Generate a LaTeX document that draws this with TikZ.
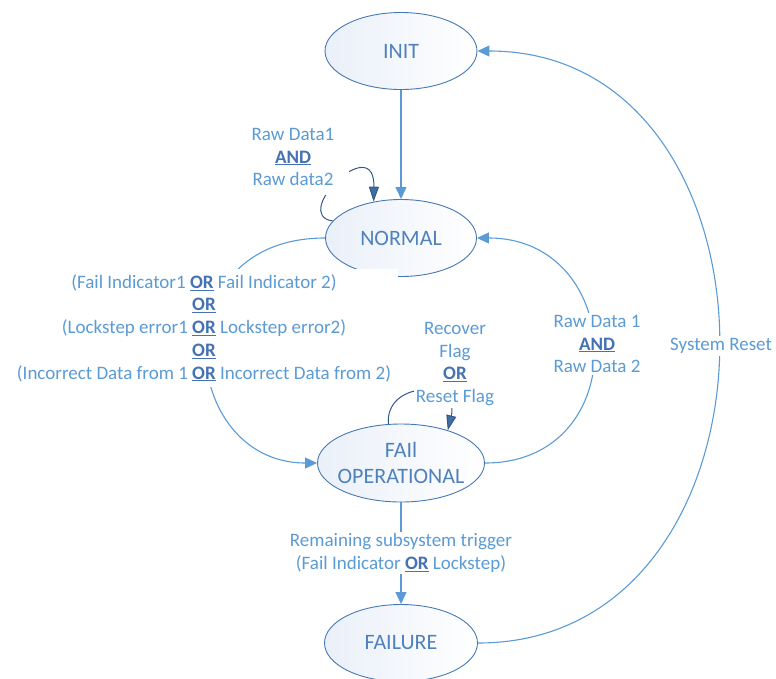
\documentclass[tikz,border=0pt]{standalone}
\usepackage{fontspec}
\setmainfont{Carlito}
\usetikzlibrary{arrows.meta,shapes.geometric,backgrounds}

\definecolor{linkblue}{RGB}{91,155,213}
\definecolor{stateedge}{RGB}{70,120,180}
\definecolor{statetext}{RGB}{79,129,189}
\definecolor{statefill}{RGB}{234,240,249}
\definecolor{loopblue}{RGB}{50,88,140}
\definecolor{looptip}{RGB}{65,110,160}
\definecolor{keyword}{RGB}{68,114,180}

% bold, underlined logical operator
\newcommand{\kw}[1]{{\color{keyword}\underline{\textbf{#1}}}}

\tikzset{
  state/.style={ellipse, draw=stateedge, line width=0.9pt,
    left color=statefill, right color=white, inner sep=0pt},
  statename/.style={text=statetext, font=\fontsize{22}{26}\selectfont,
    align=center, inner sep=0pt},
  link/.style={draw=linkblue, line width=1.1pt,
    -{Triangle[length=12pt,width=11pt]}},
  selfloop/.style={draw=loopblue, line width=1pt,
    -{Triangle[length=15pt,width=10pt,fill=looptip]}},
  cond/.style={text=linkblue, font=\fontsize{19}{22.7}\selectfont,
    align=center, inner sep=2pt},
  mask/.style={cond, fill=white},
}

\begin{document}
\begin{tikzpicture}[x=1pt,y=-1pt]
\useasboundingbox (0,0) rectangle (776,678);

% states
\node[state, minimum width=152pt, minimum height=77pt] (init)    at (401,51)  {};
\node[state, minimum width=151pt, minimum height=77pt] (normal)  at (401,238) {};
\node[state, minimum width=167pt, minimum height=78pt] (fo)      at (401,463) {};
\node[state, minimum width=153pt, minimum height=77pt] (failure) at (401,643) {};

\node[statename] (initname)    at (init)    {INIT};
\node[statename] (normalname)  at (normal)  {NORMAL};
\node[statename] (foname)      at (fo)      {FAIl\\OPERATIONAL};
\node[statename] (failurename) at (failure) {FAILURE};

% transitions
\begin{scope}[on background layer]
  \draw[link] (init) -- (normal);
  \draw[link] (normal.west) .. controls +(-166,0) and +(-138,0) .. (fo.west);
  \draw[link] (fo.east) to[out=0,in=0,looseness=1.7] (normal.east);
  \draw[link] (fo) -- (failure);
  \draw[link] (failure.east) to[out=0,in=0,looseness=1.39] (init.east);
  \draw[selfloop] (normal.166) .. controls (290,215) and (375,130) .. (normal.127);
  \draw[selfloop] (fo.108) .. controls (385,380) and (460,380) .. (fo.35);
\end{scope}

% transition conditions
\node[mask, minimum width=112pt, minimum height=75pt] (lblraw) at (293,157)
  {Raw Data1\\\kw{AND}\\Raw data2};
\node[mask, minimum width=388pt, minimum height=118pt] (lblfail) at (204,328)
  {(Fail Indicator1 \kw{OR} Fail Indicator 2)\\\kw{OR}\\(Lockstep error1 \kw{OR} Lockstep error2)\\\kw{OR}\\(Incorrect Data from 1 \kw{OR} Incorrect Data from 2)};
\node[mask] (lblrecover) at (455,364) {Recover\\Flag\\\kw{OR}\\Reset Flag};
\node[mask] (lblrawtwo) at (597,344) {Raw Data 1\\\kw{AND}\\Raw Data 2};
\node[mask] (lblreset) at (721,346) {System Reset};
\node[mask] (lblremain) at (401,553) {Remaining subsystem trigger\\(Fail Indicator \kw{OR} Lockstep)};
\end{tikzpicture}
\end{document}
